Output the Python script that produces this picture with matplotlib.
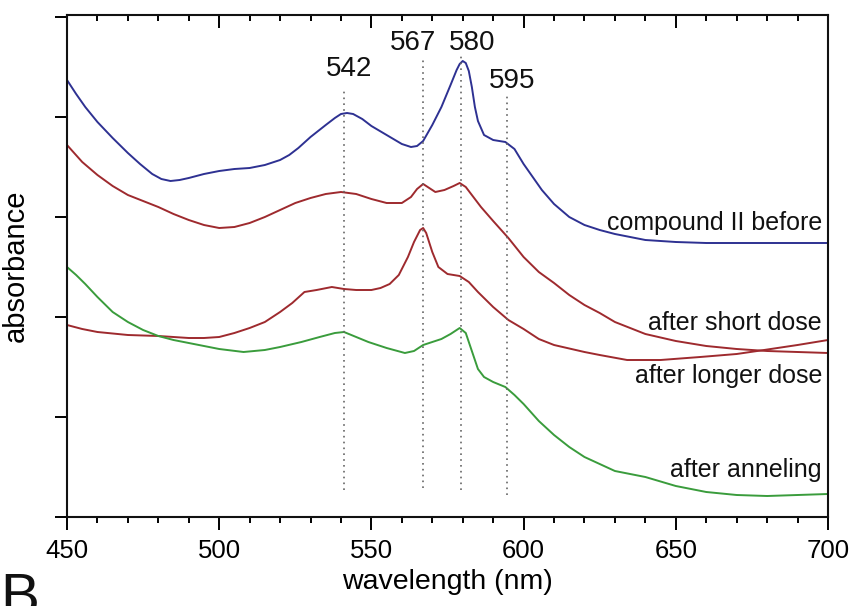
import numpy as np
import matplotlib
matplotlib.use("Agg")
import matplotlib.pyplot as plt
from matplotlib.ticker import MultipleLocator

plt.rcParams['font.family'] = ['Liberation Sans', 'DejaVu Sans']

# ---- data ----
wl_before = [450, 453, 456, 460, 465, 470, 474, 478, 481, 484, 487, 490, 495, 500, 505, 510, 515,
             520, 523, 526, 530, 535, 538, 540, 542, 544, 547, 550, 555, 560, 563, 565, 567, 570,
             573, 576, 578, 579, 580, 581, 582, 583, 584, 585, 587, 590, 594, 597, 600, 603, 606,
             610, 615, 620, 625, 630, 640, 650, 660, 680, 700]
abs_before = [4.37, 4.23, 4.10, 3.95, 3.79, 3.64, 3.53, 3.43, 3.38, 3.36, 3.37, 3.39, 3.43, 3.46,
              3.48, 3.49, 3.52, 3.57, 3.62, 3.69, 3.80, 3.92, 3.99, 4.03, 4.04, 4.03, 3.98, 3.91,
              3.82, 3.73, 3.70, 3.71, 3.76, 3.92, 4.10, 4.32, 4.47, 4.53, 4.56, 4.54, 4.46, 4.30,
              4.10, 3.96, 3.82, 3.77, 3.75, 3.68, 3.53, 3.40, 3.27, 3.13, 3.00, 2.92, 2.87, 2.83,
              2.77, 2.75, 2.74, 2.74, 2.74]

wl_short = [450, 455, 460, 465, 470, 475, 480, 485, 490, 495, 500, 505, 510, 515, 520, 525, 530,
            535, 540, 545, 550, 555, 560, 563, 565, 567, 569, 571, 574, 577, 579, 581, 583, 586,
            590, 595, 600, 605, 610, 615, 620, 625, 630, 640, 650, 660, 670, 680, 690, 700]
abs_short = [3.72, 3.55, 3.42, 3.31, 3.22, 3.16, 3.10, 3.03, 2.97, 2.92, 2.89, 2.90, 2.94, 3.00,
             3.07, 3.14, 3.19, 3.23, 3.25, 3.23, 3.18, 3.14, 3.14, 3.20, 3.28, 3.33, 3.29, 3.25,
             3.27, 3.31, 3.34, 3.30, 3.22, 3.10, 2.96, 2.79, 2.60, 2.45, 2.34, 2.22, 2.12, 2.04,
             1.95, 1.83, 1.76, 1.71, 1.68, 1.66, 1.65, 1.64]

wl_longer = [450, 455, 460, 470, 480, 490, 495, 500, 505, 510, 515, 520, 524, 528, 532, 537, 541,
             545, 550, 553, 556, 559, 562, 564, 566, 567, 568, 570, 572, 575, 579, 582, 585, 590,
             595, 600, 605, 610, 620, 625, 634, 645, 658, 670, 679, 690, 700]
abs_longer = [1.92, 1.88, 1.85, 1.82, 1.81, 1.79, 1.79, 1.80, 1.84, 1.89, 1.95, 2.05, 2.14, 2.25,
              2.27, 2.30, 2.28, 2.27, 2.27, 2.29, 2.33, 2.42, 2.60, 2.75, 2.87, 2.89, 2.84, 2.65,
              2.50, 2.43, 2.41, 2.35, 2.25, 2.10, 1.97, 1.88, 1.78, 1.72, 1.65, 1.62, 1.57, 1.57,
              1.60, 1.63, 1.67, 1.72, 1.77]

wl_anneal = [450, 453, 456, 460, 465, 470, 475, 480, 485, 490, 495, 500, 508, 515, 520, 527, 533,
             538, 541, 545, 549, 555, 561, 564, 567, 570, 573, 576, 579, 581, 583, 585, 587, 590,
             594, 597, 600, 605, 610, 615, 620, 625, 630, 640, 650, 660, 670, 680, 690, 700]
abs_anneal = [2.50, 2.42, 2.33, 2.20, 2.05, 1.95, 1.87, 1.81, 1.77, 1.74, 1.71, 1.68, 1.65, 1.67,
              1.70, 1.75, 1.80, 1.84, 1.85, 1.80, 1.75, 1.69, 1.64, 1.66, 1.72, 1.75, 1.78, 1.83,
              1.89, 1.84, 1.66, 1.48, 1.40, 1.35, 1.30, 1.22, 1.13, 0.96, 0.82, 0.70, 0.60, 0.53,
              0.46, 0.40, 0.31, 0.25, 0.22, 0.21, 0.22, 0.23]

peak_pos = [541, 567, 579.5, 594.5]
peak_labels = ['542', '567', '580', '595']
peak_line_top = [4.29, 4.57, 4.64, 4.22]
peak_line_bottom = [0.27, 0.29, 0.27, 0.22]

curve_labels = ['compound II before', 'after short dose', 'after longer dose', 'after anneling']

# ---- figure ----
W, H = 852, 606
fig = plt.figure(figsize=(W / 100, H / 100), dpi=100)
ax = fig.add_axes([67 / W, (H - 517) / H, (828 - 67) / W, (517 - 15) / H])

blue = '#2e3192'
red = '#9e2a2e'
green = '#3a9c3c'
lw = 1.4

ax.plot(wl_before, abs_before, color=blue, lw=lw)
ax.plot(wl_short, abs_short, color=red, lw=lw)
ax.plot(wl_longer, abs_longer, color=red, lw=lw)
ax.plot(wl_anneal, abs_anneal, color=green, lw=lw)

for x, y0, y1 in zip(peak_pos, peak_line_bottom, peak_line_top):
    ax.plot([x, x], [y0, y1], color='#666666', lw=1.2, ls=(0, (1, 2.5)))

peak_text_xy = [(542.5, 4.41), (563.7, 4.67), (583.0, 4.67), (596.2, 4.29)]
for lab, (tx, ty) in zip(peak_labels, peak_text_xy):
    ax.text(tx, ty, lab, fontsize=20, ha='center', va='baseline', color='#111111')

label_y = [2.87, 1.87, 1.34, 0.40]
for lab, ty in zip(curve_labels, label_y):
    ax.text(698, ty, lab, fontsize=18, ha='right', va='baseline', color='#111111')

ax.set_xlim(450, 700)
ax.set_ylim(0, 5.02)
ax.xaxis.set_major_locator(MultipleLocator(50))
ax.xaxis.set_minor_locator(MultipleLocator(10))
ax.yaxis.set_major_locator(MultipleLocator(1))
ax.set_yticklabels([])
ax.tick_params(axis='x', which='major', direction='out', length=9, width=1.4,
               labelsize=18.5, pad=7, top=True)
ax.tick_params(axis='x', which='minor', direction='out', length=4.5, width=1.4, top=True)
ax.tick_params(axis='y', which='major', direction='out', length=9, width=1.4)
# top ticks point inward (downward)
for t in ax.xaxis.get_major_ticks():
    t.tick2line.set_marker(matplotlib.lines.TICKDOWN)
for t in ax.xaxis.get_minor_ticks():
    t.tick2line.set_marker(matplotlib.lines.TICKDOWN)
for s in ax.spines.values():
    s.set_linewidth(1.5)
    s.set_color('#111111')

ax.set_xlabel('wavelength (nm)', fontsize=20.5, labelpad=4)
ax.set_ylabel('absorbance', fontsize=21, labelpad=14)

fig.text(0.0, (H - 572) / H, 'B', fontsize=42, ha='left', va='top', color='#111111')

fig.savefig('out.png', dpi=100)
